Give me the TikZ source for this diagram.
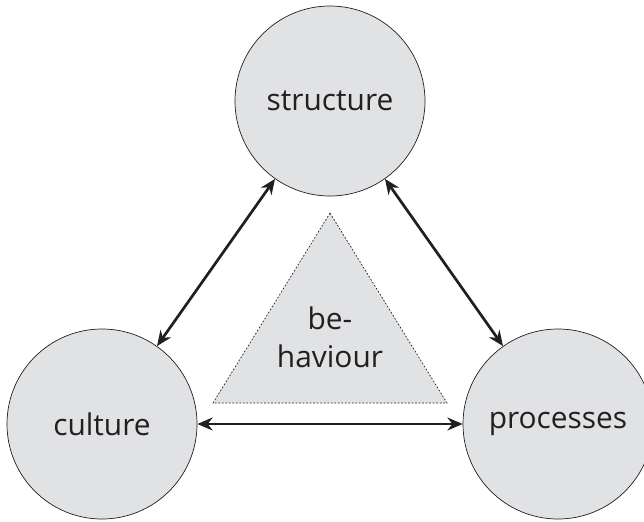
\documentclass[tikz,border=0pt]{standalone}
\usepackage{fontspec}
\setmainfont{Open Sans}
\usetikzlibrary{arrows.meta,positioning}

\definecolor{bubblegray}{RGB}{225,226,228}
\definecolor{inkgray}{RGB}{35,31,32}

\tikzset{
  bubble/.style={circle, draw=inkgray, fill=bubblegray, line width=0.6pt,
    minimum size=5.7cm, inner sep=0pt, text=inkgray,
    font=\fontsize{25.5}{32}\selectfont},
  link/.style={{Stealth[length=13pt,width=11pt]}-{Stealth[length=13pt,width=11pt]},
    line width=2.3pt, draw=inkgray},
  tri/.style={draw=inkgray, fill=bubblegray, line width=0.6pt,
    dash pattern=on 1.5pt off 1.5pt},
  label/.style={align=center, text=inkgray, font=\fontsize{25.5}{32.5}\selectfont}
}

\begin{document}
\begin{tikzpicture}[x=0.03cm, y=-0.03cm]
  \useasboundingbox (0,0) rectangle (644,521);

  \node[bubble] (structure) at (330,101) {structure};
  \node[bubble] (culture) at (102,424) {culture};
  \node[bubble] (processes) at (558,424) {processes};

  % behaviour triangle
  \coordinate (apex) at (330,213);
  \coordinate (baseL) at (213,403);
  \coordinate (baseR) at (447,403);
  \draw[tri] (apex) -- (baseL) -- (baseR) -- cycle;
  \node[label] (behaviour) at (330,337) {be-\\haviour};

  \draw[link] (culture) -- (structure);
  \draw[link] (structure) -- (processes);
  \draw[link] (culture) -- (processes);
\end{tikzpicture}
\end{document}
